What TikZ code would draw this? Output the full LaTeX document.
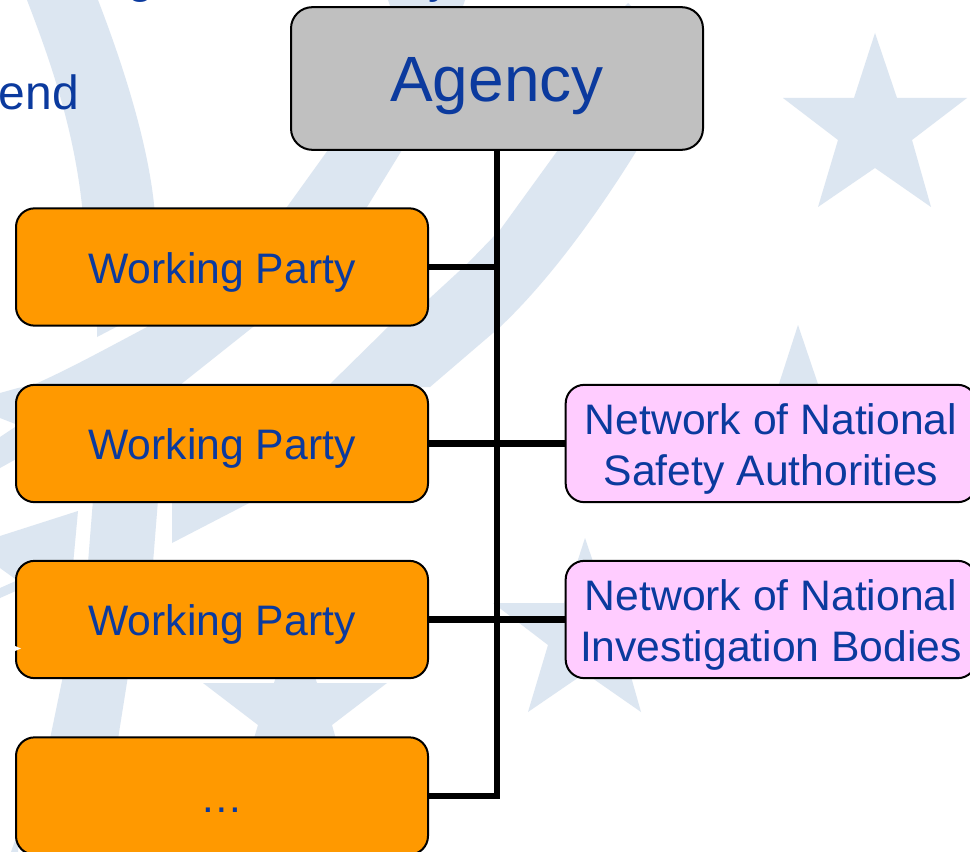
\documentclass[tikz,border=0pt]{standalone}
\usepackage{fontspec}
\setmainfont{Liberation Sans}
\definecolor{bandc}{HTML}{DCE6F1}
\definecolor{textc}{HTML}{0B3A9E}
\definecolor{orangec}{HTML}{FF9900}
\definecolor{pinkc}{HTML}{FFCCFF}
\definecolor{greyc}{HTML}{C0C0C0}
\tikzset{
  box/.style={draw=black,line width=1.5pt,text=textc,inner sep=0pt,outer sep=0pt,align=center},
  topbox/.style={box,fill=greyc,minimum width=309pt,minimum height=107pt,rounded corners=16pt,
     font=\fontsize{48pt}{57pt}\selectfont,text height=34pt,text depth=0pt},
  wpbox/.style={box,fill=orangec,minimum width=309pt,minimum height=88pt,rounded corners=14pt,
     font=\fontsize{32pt}{38.25pt}\selectfont,text height=26pt,text depth=2pt},
  netbox/.style={box,fill=pinkc,minimum width=308pt,minimum height=88pt,rounded corners=14pt,
     font=\fontsize{32pt}{38.25pt}\selectfont},
  link/.style={draw=black,line width=4.6pt,line cap=butt,line join=miter},
  bgtext/.style={text=textc,inner sep=0pt,font=\fontsize{36pt}{43pt}\selectfont},
  bg/.style={fill=bandc,draw=none}
}
\newcommand{\starshape}{(875,33) -- (897,98) -- (967,98) -- (912,140) -- (931,207) -- (875,168) -- (818,207) -- (838,140) -- (783,98) -- (854,98) -- cycle}
\newcommand{\liftline}{\rule{0pt}{31pt}}
\begin{document}
\begin{tikzpicture}[x=0.75pt,y=-0.75pt]
\useasboundingbox (0,0) rectangle (970,852);
\clip (0,0) rectangle (970,852);
\fill[white] (0,0) rectangle (970,852);
% background emblem
\path[bg] \starshape;
\begin{scope}[shift={(-77,292)}]\path[bg] \starshape;\end{scope}
\begin{scope}[shift={(-290,505)}]\path[bg] \starshape;\end{scope}
\begin{scope}[shift={(-580,585)}]\path[bg] \starshape;\end{scope}
% band A
\path[bg] (27,0) .. controls (50,60) and (75,130) .. (83,215) -- (97,327) -- (97,337) -- (120,325)
  -- (155,215) .. controls (150,150) and (125,70) .. (98,0) -- cycle;
% band D
\path[bg] (340,100) -- (402,100) -- (402,150) -- (367,207) -- (300,280) -- (253,327) -- (180,385) -- (33,385)
  .. controls (67,370) and (100,352) .. (147,327) -- (200,270) -- (287,207) -- (328,150) -- cycle;
% band C
\path[bg] (558,150) -- (637,150) .. controls (600,210) and (550,280) .. (500,327) -- (430,387) -- (327,387)
  -- (388,327) -- (430,298) -- (468,263) -- (500,230) -- cycle;
% fragments on the left edge
\path[bg] (0,393) -- (18,388) -- (33,385) -- (18,425) -- (0,418) -- cycle;
\path[bg] (0,437) -- (18,425) -- (18,458) -- (0,468) -- cycle;
\path[bg] (0,536) -- (78,511) -- (73,565) -- (30,565) -- (18,581) -- (0,568) -- cycle;
\path[bg] (0,588) -- (18,580) -- (18,590) -- (0,598) -- cycle;
% fragments between the boxes
\path[bg] (172,500) -- (172,543) -- (255,500) -- cycle;
\path[bg] (93,500) -- (158,500) -- (153,563) -- (88,563) -- cycle;
\path[bg] (63,676) -- (128,676) -- (118,739) -- (50,739) -- cycle;
\path[bg] (18,832) -- (11,852) -- (18,852) -- cycle;
\path[bg] (388,0) -- (465,0) -- (462,9) -- (391,9) -- cycle;
\path[bg] (628,3) -- (634,9) -- (622,9) -- cycle;
% clipped slide text
\node[bgtext,anchor=base east] (endword) at (79,110) {end};
\node[bgtext,anchor=base] (gword) at (141,-7) {g};
\node[bgtext,anchor=base] (yword) at (440,-7) {y};
% boxes
\node[topbox] (agency) at (497,78.5) {Agency};
\node[wpbox] (wpa) at (222,267) {Working Party};
\node[wpbox] (wpb) at (222,443.5) {Working Party};
\node[wpbox] (wpc) at (222,619.5) {Working Party};
\node[wpbox] (wpd) at (222,796) {…};
\node[netbox] (neta) at (771,443.5) {\liftline Network of National\\Safety Authorities};
\node[netbox] (netb) at (771,619.5) {\liftline Network of National\\Investigation Bodies};
% connectors
\draw[link] (agency.south) |- (wpd.east);
\draw[link] (wpa.east) -- (wpa.east -| agency.south);
\draw[link] (wpb.east) -- (neta.west);
\draw[link] (wpc.east) -- (netb.west);
% small white notch on the third box
\fill[white] (15,646) -- (21,648.5) -- (15,651) -- cycle;
\end{tikzpicture}
\end{document}
